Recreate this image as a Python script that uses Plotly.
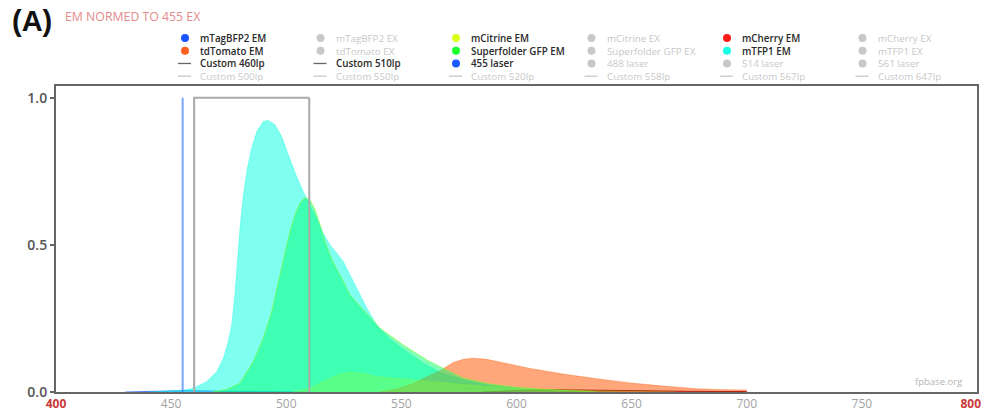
import plotly.graph_objects as go

W, H = 984, 414

# ---- emission spectra (nm, intensity normalised to 455 nm excitation) ----
mtfp1_nm = [440, 450, 455, 459.6, 465.4, 469.8, 472.7, 474.8, 476.3, 477.7,
            478.8, 479.9, 481.4, 483.1, 485, 487.2, 490, 492.2, 495.1, 498,
            500.9, 504.5, 507.4, 510.3, 513.2, 516.1, 519, 521.9, 524.8, 527.7,
            530.6, 535, 539.3, 545.1, 550.8, 559.5, 568.2, 580, 590, 600,
            615, 630, 645]
mtfp1_em = [0, 0.003, 0.006, 0.0125, 0.035, 0.069, 0.115, 0.171, 0.228, 0.33,
            0.443, 0.556, 0.67, 0.76, 0.829, 0.885, 0.919, 0.923, 0.908, 0.868,
            0.806, 0.732, 0.681, 0.636, 0.59, 0.539, 0.50, 0.472, 0.443, 0.398,
            0.353, 0.285, 0.228, 0.18, 0.145, 0.098, 0.062, 0.035, 0.02, 0.012,
            0.005, 0.002, 0]

sfgfp_nm = [468, 474, 479.9, 485.7, 490, 493.7, 496.6, 499.5, 501.6, 503.8,
            506, 508.1, 510.3, 512.5, 514.7, 516.8, 520.2, 524.1, 527.7, 533.5,
            540.7, 550.8, 561, 571.1, 576.9, 588.5, 600, 610, 620, 635]
sfgfp_em = [0, 0.008, 0.03, 0.103, 0.182, 0.273, 0.375, 0.477, 0.545, 0.602,
            0.642, 0.661, 0.653, 0.619, 0.568, 0.511, 0.443, 0.386, 0.33, 0.279,
            0.217, 0.16, 0.109, 0.069, 0.047, 0.027, 0.016, 0.01, 0.005, 0]

mcitrine_nm = [503, 510.3, 517.6, 523.3, 527.7, 533.5, 539.3, 545, 555, 567,
               584, 600, 620, 650, 670]
mcitrine_em = [0, 0.0125, 0.041, 0.06, 0.067, 0.062, 0.052, 0.048, 0.041, 0.03,
               0.02, 0.012, 0.006, 0.002, 0]

tdtomato_nm = [540, 548, 555, 560, 566.8, 569.7, 572.5, 576.9, 581.2, 587,
               591.4, 598.6, 605.9, 620.3, 634.8, 649.3, 663.8, 678.3, 690, 700]
tdtomato_em = [0, 0.01, 0.028, 0.048, 0.072, 0.086, 0.1, 0.111, 0.115, 0.111,
               0.103, 0.092, 0.08, 0.061, 0.045, 0.031, 0.02, 0.011, 0.008, 0.007]

mcherry_nm = [585, 595, 610, 625, 640, 660, 680, 700]
mcherry_em = [0, 0.004, 0.008, 0.007, 0.005, 0.004, 0.002, 0.0015]

mtagbfp2_nm = [430, 440, 450, 457, 470, 490, 510]
mtagbfp2_em = [0, 0.002, 0.004, 0.005, 0.003, 0.001, 0]

# ---- excitation line and filters ----
laser_455_nm = [455, 455]
laser_455_val = [0, 1.0]
custom_460lp_nm = [460, 460, 510]
custom_460lp_t = [0, 1.0, 1.0]
custom_510lp_nm = [510, 510]
custom_510lp_t = [1.0, 0]

# ---- axis ticks ----
x_ticks = [400, 450, 500, 550, 600, 650, 700, 750, 800]
y_ticks = [0, 0.5, 1.0]

# ---- legend entries (row by row, six columns) ----
legend_labels = [
    "mTagBFP2 EM", "mTagBFP2 EX", "mCitrine EM", "mCitrine EX", "mCherry EM", "mCherry EX",
    "tdTomato EM", "tdTomato EX", "Superfolder GFP EM", "Superfolder GFP EX", "mTFP1 EM", "mTFP1 EX",
    "Custom 460lp", "Custom 510lp", "455 laser", "488 laser", "514 laser", "561 laser",
    "Custom 500lp", "Custom 550lp", "Custom 520lp", "Custom 558lp", "Custom 567lp", "Custom 647lp",
]
legend_symbols = [
    "dot", "dot", "dot", "dot", "dot", "dot",
    "dot", "dot", "dot", "dot", "dot", "dot",
    "line", "line", "dot", "dot", "dot", "dot",
    "line", "line", "line", "line", "line", "line",
]
legend_colors = [
    "#1a55ff", None, "#d6ff1a", None, "#ff1a1a", None,
    "#ff5f1f", None, "#1aff2e", None, "#1affe4", None,
    "#666666", "#666666", "#1a5cff", None, None, None,
    None, None, None, None, None, None,
]

INACTIVE = "#c8c8c8"
NCOL = 6


def fx(px):
    return px / W


def fy(py):
    return 1 - py / H


fig = go.Figure()


def add_em(nm, em, fill, line):
    fig.add_trace(go.Scatter(x=nm, y=em, mode="lines", fill="tozeroy",
                             fillcolor=fill, line=dict(color=line, width=1),
                             hoverinfo="skip"))


add_em(mtagbfp2_nm, mtagbfp2_em, "rgba(0,70,255,0.5)", "rgba(0,70,255,0.6)")
add_em(mtfp1_nm, mtfp1_em, "rgba(0,255,226,0.5)", "rgba(0,255,226,0.35)")
add_em(tdtomato_nm, tdtomato_em, "rgba(255,85,0,0.52)", "rgba(255,85,0,0.35)")
add_em(mcherry_nm, mcherry_em, "rgba(220,0,0,0.6)", "rgba(150,0,0,0.7)")
add_em(sfgfp_nm, sfgfp_em, "rgba(0,255,118,0.5)", "rgba(120,255,40,0.6)")
add_em(mcitrine_nm, mcitrine_em, "rgba(150,255,40,0.3)", "rgba(150,255,40,0.3)")

fig.add_trace(go.Scatter(x=laser_455_nm, y=laser_455_val, mode="lines",
                         line=dict(color="rgba(60,125,255,0.7)", width=2),
                         hoverinfo="skip"))
for nm, t in ((custom_460lp_nm, custom_460lp_t), (custom_510lp_nm, custom_510lp_t)):
    fig.add_trace(go.Scatter(x=nm, y=t, mode="lines",
                             line=dict(color="#a9a9a9", width=2),
                             hoverinfo="skip"))

# ---- hand-built legend grid: symbols as shapes, one text block per column ----
annotations = []
shapes = []
col_x0, col_dx = 185, 135.5
row_y0 = 38
LEG_FONT = 9.8                      # line pitch = 1.3 * font size
row_dy = 1.3 * LEG_FONT
nrows = len(legend_labels) // NCOL
for c in range(NCOL):
    mx = col_x0 + c * col_dx
    lines = []
    for r in range(nrows):
        i = r * NCOL + c
        my = row_y0 + r * row_dy
        active = legend_colors[i] is not None
        color = legend_colors[i] if active else INACTIVE
        if legend_symbols[i] == "dot":
            shapes.append(dict(type="circle", xref="paper", yref="paper",
                               xsizemode="pixel", ysizemode="pixel",
                               xanchor=fx(mx), yanchor=fy(my),
                               x0=-4, x1=4, y0=-4, y1=4,
                               fillcolor=color, line=dict(width=0)))
        else:
            shapes.append(dict(type="line", xref="paper", yref="paper",
                               x0=fx(mx - 7), x1=fx(mx + 6), y0=fy(my), y1=fy(my),
                               line=dict(color=color, width=1.3)))
        if active:
            lines.append(f"<span style='color:#2a2a2a;font-weight:600'>{legend_labels[i]}</span>")
        else:
            lines.append(legend_labels[i])
    annotations.append(dict(
        text="<br>".join(lines), align="left",
        x=fx(mx + 14), y=fy(row_y0 + (nrows - 1) * row_dy / 2),
        xref="paper", yref="paper", xanchor="left", yanchor="middle",
        showarrow=False, borderpad=0,
        font=dict(family="Open Sans", size=LEG_FONT, color=INACTIVE)))

annotations.append(dict(text="(A)", x=fx(10), y=fy(21), xref="paper", yref="paper",
                        xanchor="left", yanchor="middle", showarrow=False,
                        font=dict(family="Liberation Sans", size=29, color="#111111",
                                  weight="bold")))
annotations.append(dict(text="EM NORMED TO 455 EX", x=fx(63), y=fy(16.5),
                        xref="paper", yref="paper", xanchor="left", yanchor="middle",
                        showarrow=False,
                        font=dict(family="Open Sans", size=12.3, color="#e48a8a")))
annotations.append(dict(text="fpbase.org", x=fx(964), y=fy(381), xref="paper",
                        yref="paper", xanchor="right", yanchor="middle",
                        showarrow=False,
                        font=dict(family="Open Sans", size=9.5, color="#b4b4b4")))


def x_label(v):
    if v == x_ticks[0]:
        return f"<span style='color:#c83a3a'><b>{v}</b></span>"
    if v == x_ticks[-1]:
        return f"<span style='color:#c83a3a'><b>{v}</b></span>&nbsp;&nbsp;&nbsp;&nbsp;"
    return str(v)


x_ticktext = [x_label(v) for v in x_ticks]

fig.update_layout(
    template="none",
    width=W, height=H, autosize=False,
    margin=dict(l=0, r=0, t=0, b=0, pad=0),
    paper_bgcolor="white", plot_bgcolor="white",
    showlegend=False,
    annotations=annotations, shapes=shapes,
    xaxis=dict(domain=[56 / W, 977 / W], range=[400, 800], automargin=False,
               tickvals=x_ticks, ticktext=x_ticktext, ticklabeloverflow="allow",
               showgrid=False, zeroline=False,
               showline=True, linecolor="#666666", linewidth=2, mirror=True,
               ticks="", tickfont=dict(family="Open Sans", size=12, color="#a3a3a3")),
    yaxis=dict(domain=[22 / H, 328 / H], range=[0, 1.04], automargin=False,
               tickvals=y_ticks, tickformat=".1f", ticklabeloverflow="allow",
               showgrid=False, zeroline=False,
               showline=True, linecolor="#666666", linewidth=2, mirror=True,
               ticks="outside", ticklen=4, tickwidth=2, tickcolor="#666666",
               tickfont=dict(family="Open Sans", size=14, color="#555555",
                             weight=600)),
)

fig.write_html("out.html")
